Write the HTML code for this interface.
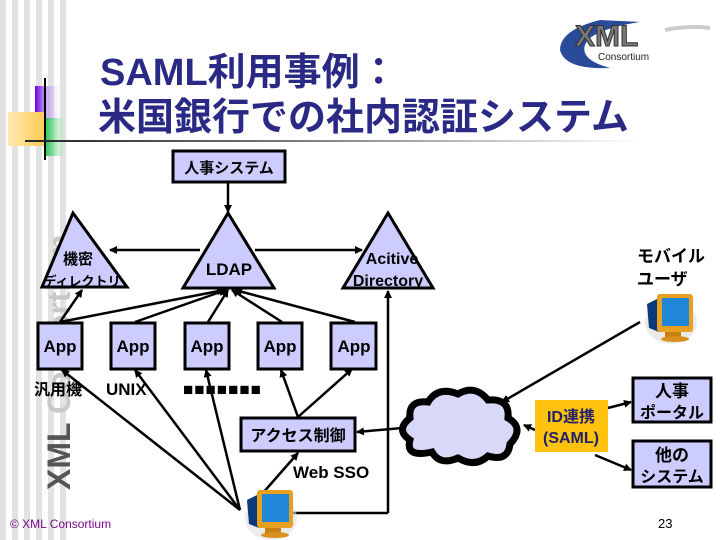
<!DOCTYPE html>
<html><head><meta charset="utf-8"><style>
body{margin:0;width:720px;height:540px;overflow:hidden;background:#fff}
svg{display:block}
text{font-family:"Liberation Sans","Noto Sans CJK JP",sans-serif;font-weight:bold}
</style></head><body>
<svg width="720" height="540" viewBox="0 0 720 540" xmlns="http://www.w3.org/2000/svg">
<defs>
<marker id="a" markerWidth="8" markerHeight="8" refX="7" refY="4" orient="auto" markerUnits="userSpaceOnUse"><path d="M0,0 L8,4 L0,8 z" fill="#000"/></marker>
<linearGradient id="ul" x1="0" x2="1"><stop offset="0" stop-color="#222"/><stop offset="0.5" stop-color="#888"/><stop offset="1" stop-color="#fff"/></linearGradient>
<linearGradient id="pg" x1="0" x2="1"><stop offset="0" stop-color="#6a00e0"/><stop offset="1" stop-color="#fff" stop-opacity="0"/></linearGradient>
<linearGradient id="gg" x1="0" x2="1"><stop offset="0" stop-color="#10c040"/><stop offset="1" stop-color="#fff" stop-opacity="0"/></linearGradient>
<linearGradient id="yg" x1="0" x2="1"><stop offset="0" stop-color="#ffe9b0"/><stop offset="1" stop-color="#ffcc55"/></linearGradient>
<g id="mon">
<ellipse cx="28" cy="30" rx="26" ry="22" fill="#ddd" opacity="0.6"/>
<path d="M4,12 L16,6 L16,40 L6,36 z" fill="#0a3a7a"/>
<rect x="14" y="2" width="36" height="38" rx="3" fill="#e8a020"/>
<rect x="19" y="6" width="27" height="28" fill="#1f86d8"/>
<rect x="22" y="40" width="16" height="5" fill="#c88010"/>
<ellipse cx="32" cy="47" rx="14" ry="3" fill="#d89020"/>
</g>
</defs>
<!-- left stripes -->
<g fill="#e2e2e2">
<rect x="0" y="0" width="6" height="540"/><rect x="12" y="0" width="6" height="540"/><rect x="24" y="0" width="6" height="540"/><rect x="36" y="0" width="6" height="540"/><rect x="48" y="0" width="6" height="540"/><rect x="60" y="0" width="6" height="540"/>
</g>
<rect x="35" y="86" width="28" height="34" fill="url(#pg)"/>
<rect x="44" y="118" width="28" height="38" fill="url(#gg)"/>
<rect x="8" y="112" width="37" height="34" fill="url(#yg)"/>
<rect x="44" y="78" width="2" height="82" fill="#000"/>
<rect x="25" y="140" width="615" height="2" fill="url(#ul)"/>
<text transform="translate(70,490) rotate(-90)" font-size="32" fill="#c8c8c8">XML Consortium</text>
<text transform="translate(70,490) rotate(-90)" font-size="32" fill="#555">XML</text>
<!-- title -->
<text x="100" y="85" font-size="38" fill="#2a2a86">SAML利用事例：</text>
<text x="98" y="130" font-size="38" fill="#2a2a86">米国銀行での社内認証システム</text>
<!-- logo -->
<path d="M600,20 Q560,30 560,50 Q565,70 610,68 Q580,60 585,45 Q590,30 640,22 Z" fill="#2a4a9a"/>
<text x="575" y="46" font-size="30" fill="#777" stroke="#333" stroke-width="1" font-family="Liberation Sans">XML</text>
<path d="M665,30 Q690,25 710,28" stroke="#ccc" stroke-width="4" fill="none"/>
<text x="598" y="60" font-size="10" fill="#222" style="font-weight:normal">Consortium</text>
<!-- connectors -->
<g stroke="#000" stroke-width="2.5" fill="none" marker-end="url(#a)">
<line x1="228" y1="182" x2="228" y2="212"/>
<line x1="200" y1="250" x2="110" y2="250"/>
<line x1="255" y1="250" x2="362" y2="250"/>
<line x1="60" y1="322" x2="82" y2="290"/>
<line x1="60" y1="322" x2="224" y2="290"/>
<line x1="135" y1="322" x2="226" y2="290"/>
<line x1="208" y1="322" x2="228" y2="290"/>
<line x1="282" y1="322" x2="232" y2="290"/>
<line x1="355" y1="322" x2="235" y2="290"/>
<line x1="240" y1="510" x2="62" y2="370"/>
<line x1="240" y1="510" x2="135" y2="370"/>
<line x1="240" y1="510" x2="206" y2="370"/>
<line x1="298" y1="417" x2="281" y2="370"/>
<line x1="298" y1="417" x2="352" y2="369"/>
<line x1="262" y1="494" x2="298" y2="453"/>
<line x1="402" y1="428" x2="357" y2="432"/>
<line x1="388" y1="513" x2="388" y2="291"/>
<line x1="640" y1="322" x2="502" y2="402"/>
<line x1="608" y1="408" x2="631" y2="402"/>
<line x1="535" y1="430" x2="524" y2="425"/>
<line x1="595" y1="455" x2="631" y2="470"/>
</g>
<polyline points="290,513 388,513" stroke="#000" stroke-width="2.5" fill="none"/>
<!-- nodes -->
<g fill="#ccccff" stroke="#000" stroke-width="3">
<rect x="173" y="151" width="112" height="31"/>
<polygon points="228,213 183,288 274,288"/>
<polygon points="73,213 42,287 127,287"/>
<polygon points="388,213 343,288 433,288"/>
<rect x="38" y="323" width="44" height="46"/>
<rect x="111" y="323" width="44" height="46"/>
<rect x="185" y="323" width="44" height="46"/>
<rect x="258" y="323" width="44" height="46"/>
<rect x="331" y="323" width="45" height="46"/>
<rect x="241" y="418" width="114" height="33"/>
<rect x="633" y="378" width="78" height="44"/>
<rect x="633" y="441" width="78" height="46"/>
</g>
<rect x="535" y="400" width="73" height="52" fill="#ffc20e"/>
<!-- cloud -->
<path d="M410,440 Q395,430 410,418 Q408,400 428,402 Q438,386 458,394 Q475,384 488,400 Q510,398 508,418 Q525,428 510,444 Q508,462 488,456 Q475,468 458,458 Q440,466 432,452 Q405,458 410,440 Z" fill="#d8d8f8" stroke="#000" stroke-width="7"/>
<!-- text -->
<g font-size="15" fill="#000">
<text x="229" y="173" text-anchor="middle">人事システム</text>
<text x="229" y="275" text-anchor="middle" font-size="17">LDAP</text>
<text x="78" y="264" text-anchor="middle">機密</text>
<text x="82" y="286" text-anchor="middle" font-size="13">ディレクトリ</text>
<text x="392" y="264" text-anchor="middle" font-size="16">Acitive</text>
<text x="388" y="286" text-anchor="middle" font-size="16">Directory</text>
<text x="60" y="352" text-anchor="middle" font-size="17">App</text>
<text x="133" y="352" text-anchor="middle" font-size="17">App</text>
<text x="207" y="352" text-anchor="middle" font-size="17">App</text>
<text x="280" y="352" text-anchor="middle" font-size="17">App</text>
<text x="354" y="352" text-anchor="middle" font-size="17">App</text>
<text x="34" y="395" font-size="16">汎用機</text>
<text x="106" y="395" font-size="17">UNIX</text>
<text x="183" y="395" font-size="17" letter-spacing="1">■■■■■■■</text>
<text x="298" y="441" text-anchor="middle" font-size="16">アクセス制御</text>
<text x="293" y="478" font-size="17">Web SSO</text>
<text x="571" y="422" text-anchor="middle" font-size="16" fill="#222266">ID連携</text>
<text x="571" y="443" text-anchor="middle" font-size="16" fill="#222266">(SAML)</text>
<text x="672" y="397" text-anchor="middle" font-size="17">人事</text>
<text x="672" y="418" text-anchor="middle" font-size="16">ポータル</text>
<text x="672" y="461" text-anchor="middle" font-size="17">他の</text>
<text x="672" y="482" text-anchor="middle" font-size="16">システム</text>
<text x="637" y="262" font-size="17">モバイル</text>
<text x="637" y="285" font-size="17">ユーザ</text>
</g>
<use href="#mon" x="243" y="488"/>
<use href="#mon" x="643" y="292"/>
<text x="10" y="528" font-size="12" fill="#7a0a8a" style="font-weight:normal">© XML Consortium</text>
<text x="658" y="528" font-size="13" fill="#000" style="font-weight:normal">23</text>
</svg>
</body></html>
